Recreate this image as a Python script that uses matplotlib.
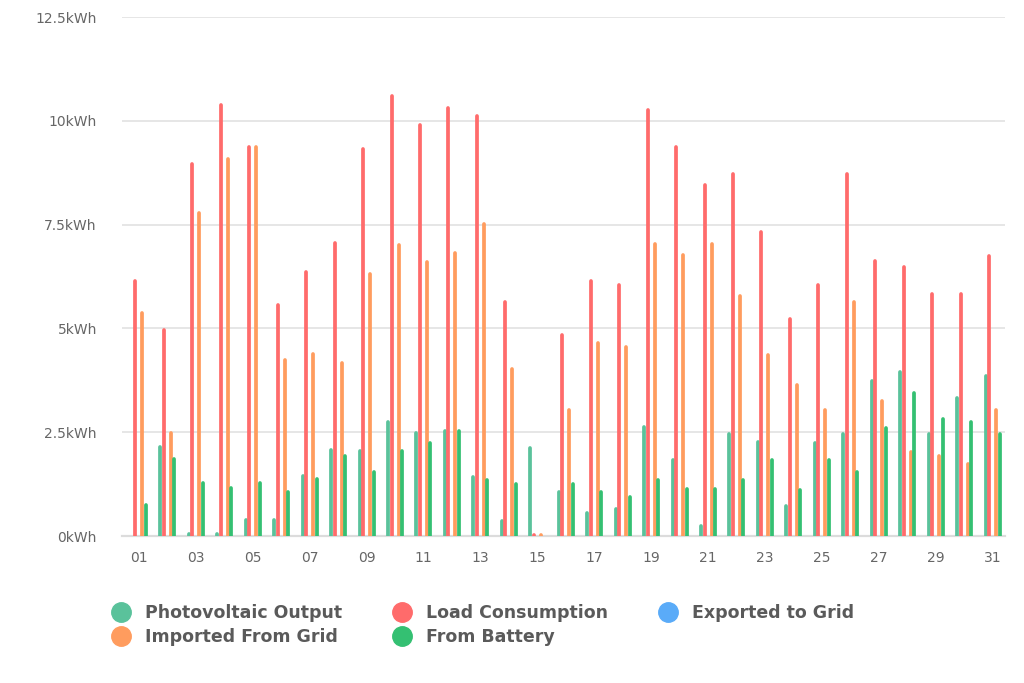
import matplotlib
matplotlib.use("Agg")
from matplotlib import pyplot as plt
from matplotlib.lines import Line2D
import numpy as np

days = list(range(1, 32))
day_labels = ["%02d" % d if d % 2 == 1 else "" for d in days]

# kWh per day
pv_output = [0.0, 2.15, 0.04, 0.04, 0.38, 0.38, 1.44, 2.06, 2.05, 2.74,
             2.47, 2.53, 1.42, 0.36, 2.13, 1.05, 0.55, 0.65, 2.62, 1.84,
             0.23, 2.46, 2.26, 0.72, 2.25, 2.45, 3.74, 3.95, 2.45, 3.32, 3.86]
load_consumption = [6.15, 4.96, 8.95, 10.38, 9.38, 5.56, 6.35, 7.06, 9.32, 10.6,
                    9.9, 10.31, 10.12, 5.63, 0.02, 4.84, 6.13, 6.05, 10.27, 9.36,
                    8.45, 8.73, 7.32, 5.22, 6.05, 8.73, 6.63, 6.47, 5.84, 5.84, 6.75]
exported_to_grid = [0.0] * 31
imported_from_grid = [5.37, 2.48, 7.77, 9.09, 9.38, 4.25, 4.38, 4.17, 6.32, 7.02,
                      6.61, 6.82, 7.52, 4.03, 0.02, 3.03, 4.65, 4.56, 7.04, 6.76,
                      7.04, 5.77, 4.36, 3.64, 3.04, 5.64, 3.24, 2.03, 1.92, 1.74, 3.04]
from_battery = [0.75, 1.86, 1.27, 1.15, 1.27, 1.06, 1.37, 1.92, 1.55, 2.05,
                2.25, 2.53, 1.35, 1.25, 0.0, 1.26, 1.05, 0.93, 1.35, 1.14,
                1.14, 1.35, 1.84, 1.12, 1.83, 1.54, 2.61, 3.44, 2.82, 2.74, 2.45]

series = [
    ("Photovoltaic Output", pv_output, "#5ac29b"),
    ("Load Consumption", load_consumption, "#ff6b6b"),
    ("Exported to Grid", exported_to_grid, "#5aabf8"),
    ("Imported From Grid", imported_from_grid, "#ff9c5e"),
    ("From Battery", from_battery, "#34c072"),
]

fig = plt.figure(figsize=(10.24, 6.83), dpi=100)
ax = fig.add_axes([0.119, 0.2152, 0.862, 0.7599])

x = np.array(days, dtype=float)
step = 0.123
for i, (name, vals, col) in enumerate(series):
    ax.vlines(x + (i - 2) * step, 0, vals, colors=col, linewidth=2.7,
              capstyle="round", zorder=3)

ax.set_xlim(0.4, 31.42)
ax.set_ylim(0, 12.5)
ax.set_yticks(np.arange(0, 12.6, 2.5))
ax.set_yticklabels(["%gkWh" % v for v in np.arange(0, 12.6, 2.5)])
ax.set_xticks(days)
ax.set_xticklabels(day_labels)

ax.grid(axis="y", color="#e6e6e6", linewidth=1.4, zorder=0)
ax.set_axisbelow(True)
for s in ["top", "right", "left"]:
    ax.spines[s].set_visible(False)
ax.spines["bottom"].set_color("#dcdcdc")
ax.spines["bottom"].set_linewidth(1.6)
ax.tick_params(axis="y", length=0, pad=18, labelsize=10, labelcolor="#666666")
ax.tick_params(axis="x", length=0, pad=11, labelsize=10, labelcolor="#666666")

# legend, row-major order like the original
order = [0, 3, 1, 4, 2]
handles = [Line2D([], [], ls="", marker="o", markersize=14,
                  markerfacecolor=series[k][2], markeredgecolor=series[k][2])
           for k in order]
labels = [series[k][0] for k in order]
fig.legend(handles, labels, ncol=3, loc="upper left",
           bbox_to_anchor=(112.3 / 1024, 1 - 604.4 / 683),
           frameon=False, borderpad=0, borderaxespad=0,
           handlelength=1.0, handletextpad=0.88,
           columnspacing=2.95, labelspacing=0.33,
           prop={"weight": "bold", "size": 12.5}, labelcolor="#5a5a5a")

fig.savefig("out.png", dpi=100)
